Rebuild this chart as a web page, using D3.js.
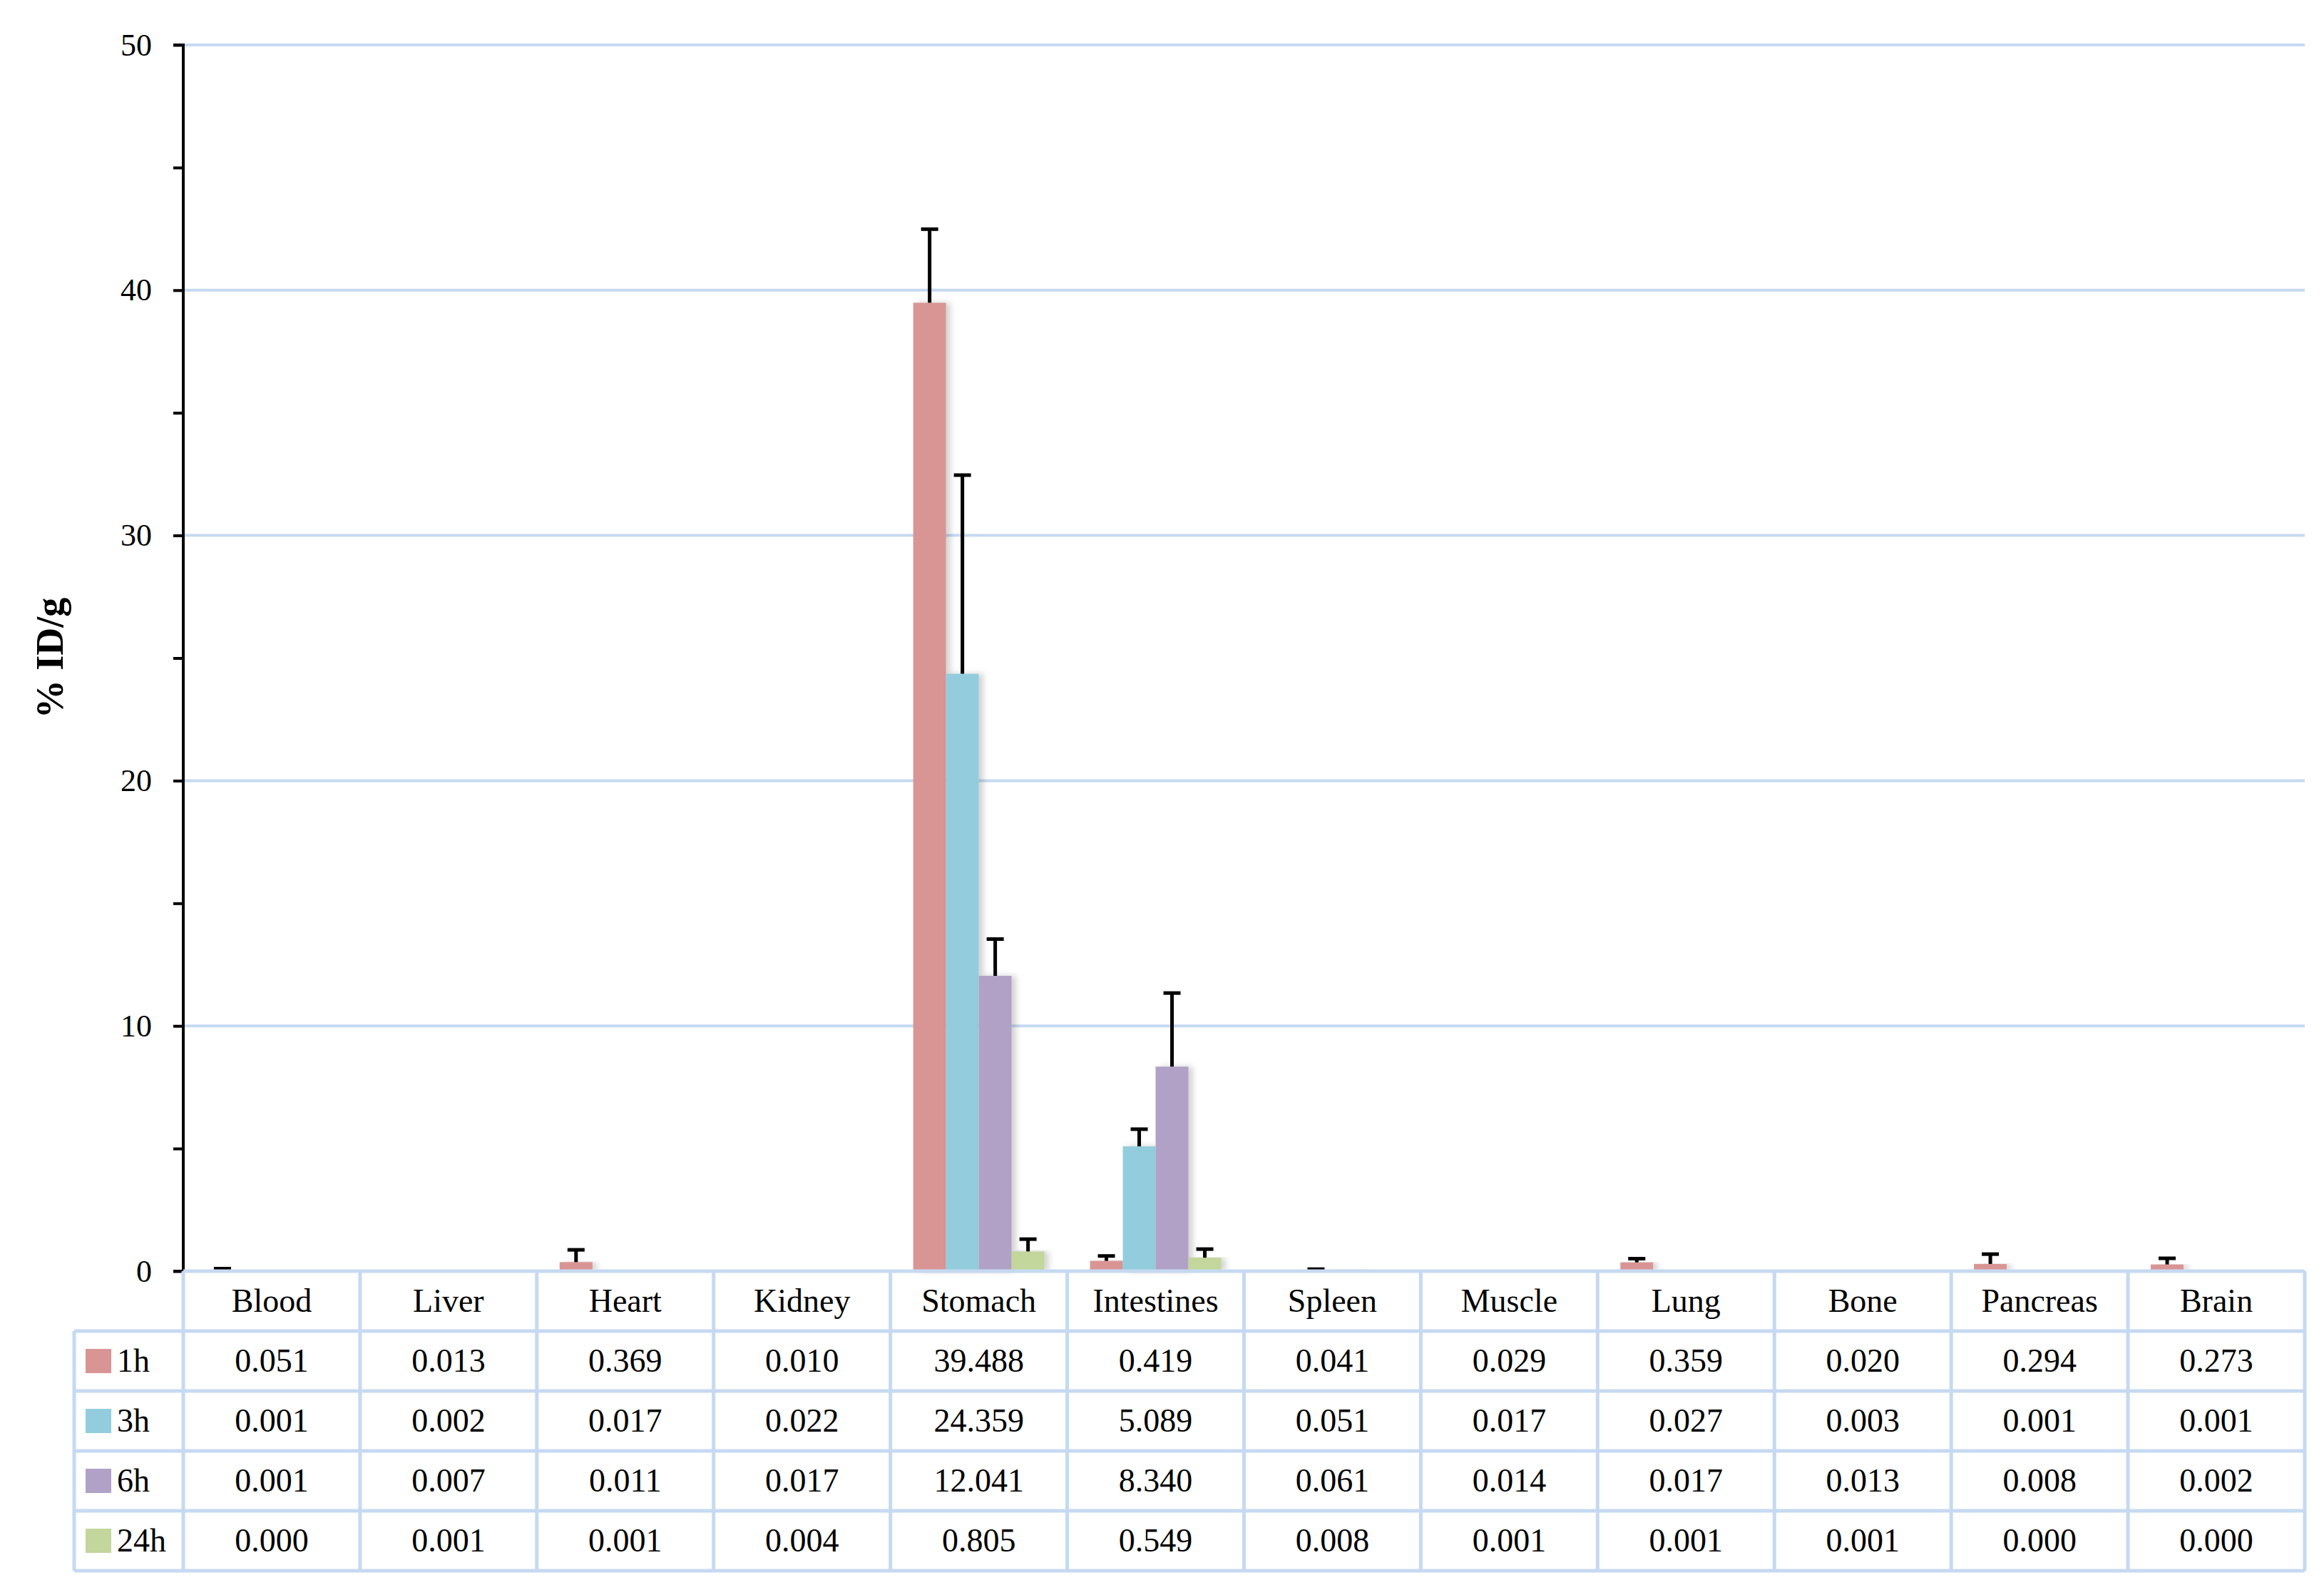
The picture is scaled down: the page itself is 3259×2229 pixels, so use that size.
<!DOCTYPE html>
<html><head><meta charset="utf-8">
<script src="https://cdn.jsdelivr.net/npm/d3@7"></script>
<style>body{margin:0;background:#fff}</style>
</head><body>
<script>
const categories=["Blood","Liver","Heart","Kidney","Stomach","Intestines","Spleen","Muscle","Lung","Bone","Pancreas","Brain"];
const seriesNames=["1h","3h","6h","24h"];
const colors=["#d99594","#93cddd","#b2a1c7","#c3d69b"];
const v1h=[0.051,0.013,0.369,0.010,39.488,0.419,0.041,0.029,0.359,0.020,0.294,0.273];
const v3h=[0.001,0.002,0.017,0.022,24.359,5.089,0.051,0.017,0.027,0.003,0.001,0.001];
const v6h=[0.001,0.007,0.011,0.017,12.041,8.340,0.061,0.014,0.017,0.013,0.008,0.002];
const v24h=[0.000,0.001,0.001,0.004,0.805,0.549,0.008,0.001,0.001,0.001,0.000,0.000];
const e1h=[0.05,0,0.5,0,3.0,0.2,0,0,0.15,0,0.4,0.25];
const e3h=[0,0,0,0,8.1,0.7,0.03,0,0,0,0,0];
const e6h=[0,0,0,0,1.5,3.0,0,0,0,0,0,0];
const e24h=[0,0,0,0,0.5,0.35,0,0,0,0,0,0];
const yTicks=[0,10,20,30,40,50];
const values=[v1h,v3h,v6h,v24h], errs=[e1h,e3h,e6h,e24h];
const fmt=d3.format(".3f");

const W=3259,H=2229, L=257,R=3232,T=63,B=1782;
const svg=d3.select("body").append("svg").attr("width",W).attr("height",H);
const defs=svg.append("defs");
const f=defs.append("filter").attr("id","sh").attr("x","-20%").attr("y","-5%").attr("width","150%").attr("height","110%");
f.append("feDropShadow").attr("dx",6).attr("dy",0).attr("stdDeviation",4).attr("flood-color","#000").attr("flood-opacity",0.18);
const font="'Liberation Serif','DejaVu Serif',serif";
const grid="#c6d9f1";

const y=d3.scaleLinear().domain([0,50]).range([B,T]);
const x=d3.scaleBand().domain(categories).range([L,R]);
const xs=d3.scaleBand().domain(seriesNames).range([0,184]);

svg.append("g").selectAll("line").data(yTicks.slice(1)).join("line")
 .attr("x1",L).attr("x2",R).attr("y1",d=>y(d)).attr("y2",d=>y(d)).attr("stroke",grid).attr("stroke-width",4);

const ax=svg.append("g").attr("transform",`translate(${L},0)`).call(d3.axisLeft(y).tickValues(d3.range(0,51,5)).tickSize(14).tickFormat(d=>d%10===0?d:""));
ax.select(".domain").attr("stroke","#000").attr("stroke-width",4).attr("d",`M-14,${T}H0V${B}H-14`);
ax.selectAll(".tick line").attr("stroke","#000").attr("stroke-width",4);
ax.selectAll(".tick text").attr("font-family",font).attr("font-size",44).attr("fill","#000").attr("x",-44);

svg.append("text").attr("transform",`translate(88,${(T+B)/2}) rotate(-90)`).attr("text-anchor","middle")
 .attr("font-family",font).attr("font-weight","bold").attr("font-size",54).text("% ID/g");

const g=svg.append("g");
values.forEach((vals,si)=>{
  const off=(x.bandwidth()-184)/2;
  g.append("g").selectAll("rect").data(categories).join("rect")
   .attr("x",(c)=>x(c)+off+xs(seriesNames[si])).attr("width",xs.bandwidth())
   .attr("y",(c,i)=>y(vals[i])).attr("height",(c,i)=>Math.max(B-y(vals[i]),0))
   .attr("fill",colors[si]).attr("filter","url(#sh)");
  categories.forEach((c,i)=>{
    const e=errs[si][i]; if(!e) return;
    const cx=x(c)+off+xs(seriesNames[si])+xs.bandwidth()/2;
    g.append("line").attr("x1",cx).attr("x2",cx).attr("y1",y(vals[i])).attr("y2",y(vals[i]+e)).attr("stroke","#000").attr("stroke-width",5);
    g.append("line").attr("x1",cx-12).attr("x2",cx+12).attr("y1",y(vals[i]+e)).attr("y2",y(vals[i]+e)).attr("stroke","#000").attr("stroke-width",5);
  });
});

// table
const LL=104, rh=84, tTop=B;
const tg=svg.append("g");
function ln(x1,y1,x2,y2){tg.append("line").attr("x1",x1).attr("y1",y1).attr("x2",x2).attr("y2",y2).attr("stroke",grid).attr("stroke-width",5);}
ln(L,tTop,R,tTop);
for(let r=1;r<=5;r++) ln(LL,tTop+r*rh,R,tTop+r*rh);
categories.forEach(c=>ln(x(c),tTop,x(c),tTop+5*rh));
ln(R,tTop,R,tTop+5*rh); ln(LL,tTop+rh,LL,tTop+5*rh);
tg.selectAll(".h").data(categories).join("text").attr("x",c=>x(c)+x.bandwidth()/2).attr("y",tTop+rh/2+15)
 .attr("text-anchor","middle").attr("font-family",font).attr("font-size",46).text(c=>c);
seriesNames.forEach((s,si)=>{
  const yc=tTop+rh*(si+1)+rh/2;
  tg.append("rect").attr("x",LL+16).attr("y",yc-17).attr("width",36).attr("height",34).attr("fill",colors[si]);
  tg.append("text").attr("x",LL+60).attr("y",yc+15).attr("font-family",font).attr("font-size",46).text(s);
  tg.append("g").selectAll("text").data(categories).join("text").attr("x",c=>x(c)+x.bandwidth()/2).attr("y",yc+15)
   .attr("text-anchor","middle").attr("font-family",font).attr("font-size",46).text((c,i)=>fmt(values[si][i]));
});
</script>
</body></html>
